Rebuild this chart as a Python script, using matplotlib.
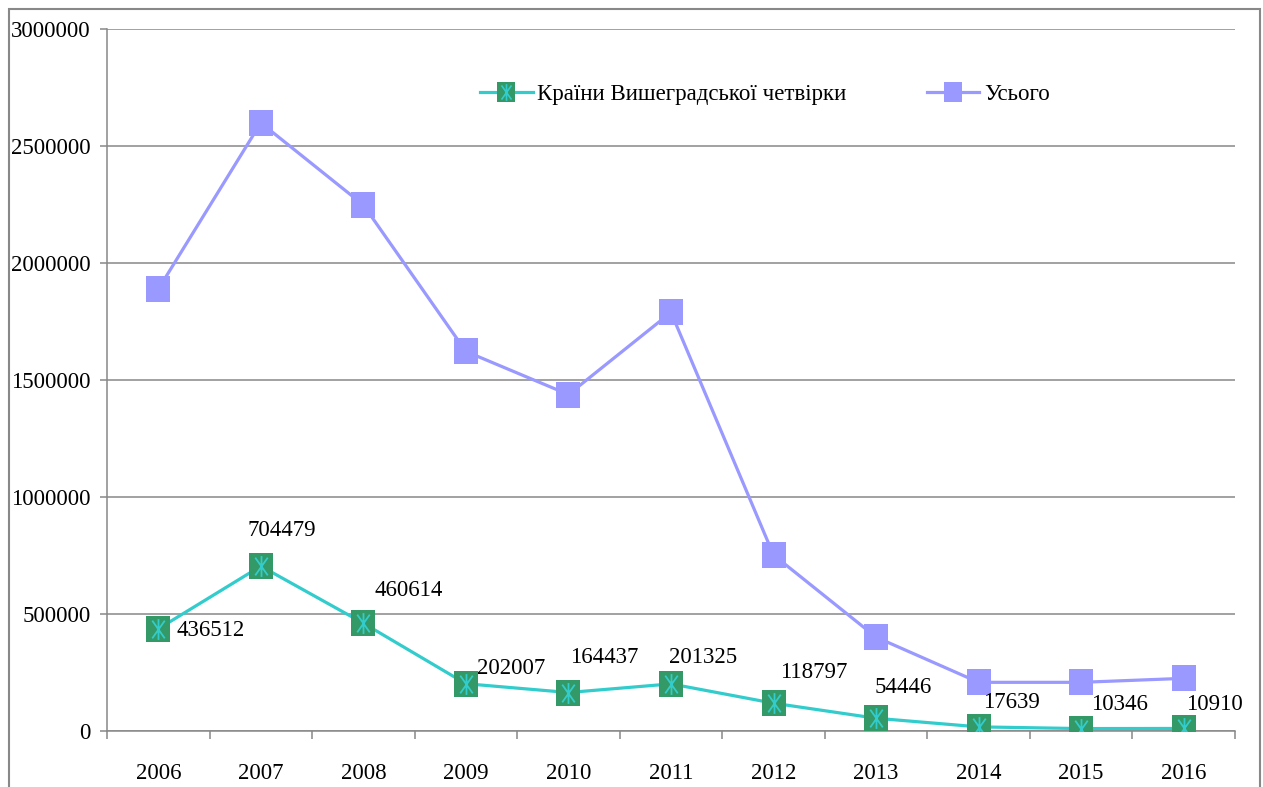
import matplotlib
matplotlib.use("Agg")
import matplotlib.pyplot as plt
import numpy as np
from matplotlib.lines import Line2D
from matplotlib.path import Path
from matplotlib.patches import Rectangle
from matplotlib.legend_handler import HandlerTuple

plt.rcParams["font.family"] = ["Liberation Serif", "DejaVu Serif"]

years = ["2006", "2007", "2008", "2009", "2010", "2011",
         "2012", "2013", "2014", "2015", "2016"]
v4_values = [436512, 704479, 460614, 202007, 164437, 201325,
             118797, 54446, 17639, 10346, 10910]
total_values = [1888000, 2599000, 2248000, 1622000, 1438000, 1789000,
                752000, 401000, 208000, 208000, 225000]

label_v4 = "Країни Вишеградської четвірки"
label_total = "Усього"

# label offsets (pixels) for the data labels of the V4 series
label_offsets = [(18, -2), (-13, 36), (11, 33), (11, 15), (2, 35), (-2, 26),
                 (7, 31), (-2, 31), (4, 24), (10, 24), (2, 24)]

CYAN = "#33CCCC"
GREEN = "#339966"
BLUE = "#9999FF"
GRID = "#888888"
FS = 16.5

# slightly narrow square and an asterisk-like star (Excel style)
square = Path([(-0.45, -0.5), (0.45, -0.5), (0.45, 0.5), (-0.45, 0.5), (-0.45, -0.5)],
              [Path.MOVETO, Path.LINETO, Path.LINETO, Path.LINETO, Path.CLOSEPOLY])
star = Path([(0, -1), (0, 1), (-0.6, -0.85), (0.6, 0.85), (-0.6, 0.85), (0.6, -0.85)],
            [Path.MOVETO, Path.LINETO, Path.MOVETO, Path.LINETO, Path.MOVETO, Path.LINETO])

fig = plt.figure(figsize=(12.63, 7.87), dpi=100)
ax = fig.add_axes([107 / 1263, 1 - 731 / 787, (1235 - 107) / 1263, (731 - 29) / 787])

x = np.arange(len(years))

ax.plot(x, total_values, color=BLUE, lw=2.3, marker=square, ms=18.5,
        mfc=BLUE, mec=BLUE, mew=0, zorder=3)
ax.plot(x, v4_values, color=CYAN, lw=2.3, marker=square, ms=18.5,
        mfc=GREEN, mec=GREEN, mew=0, zorder=4)
ax.plot(x, v4_values, ls="none", marker=star, ms=15, mfc="none",
        mec=CYAN, mew=1.3, zorder=5)

for xi, val, (dx, dy) in zip(x, v4_values, label_offsets):
    ax.annotate(str(val), (xi, val), xytext=(dx, dy), textcoords="offset pixels",
                ha="left", va="center", fontsize=FS, zorder=6)

ax.set_xlim(-0.5, len(years) - 0.5)
ax.set_ylim(0, 3000000)
ax.set_yticks(np.arange(0, 3000001, 500000))
ax.set_yticklabels([f"{int(v)}" for v in np.arange(0, 3000001, 500000)])
ax.set_xticks(x)
ax.set_xticklabels(years)
ax.set_xticks(np.arange(-0.5, len(years)), minor=True)

ax.grid(axis="y", color=GRID, lw=1.1)
ax.set_axisbelow(True)
for side in ["top", "right"]:
    ax.spines[side].set_visible(False)
for side in ["left", "bottom"]:
    ax.spines[side].set_color(GRID)
    ax.spines[side].set_linewidth(1.1)

ax.tick_params(axis="y", length=5, width=1.1, color=GRID, pad=7, labelsize=FS)
ax.tick_params(axis="x", which="major", length=0, pad=23, labelsize=FS)
ax.tick_params(axis="x", which="minor", length=6, width=1.1, color=GRID)

h_v4 = (Line2D([], [], color=CYAN, lw=2.3, marker=square, ms=15, mfc=GREEN, mec=GREEN, mew=0),
        Line2D([], [], ls="none", marker=star, ms=12, mfc="none", mec=CYAN, mew=1.2))
h_total = Line2D([], [], color=BLUE, lw=2.3, marker=square, ms=15, mfc=BLUE, mec=BLUE, mew=0)
fig.legend([h_v4, h_total], [label_v4, label_total], loc="center left",
           bbox_to_anchor=(480 / 1263, 1 - 94 / 787), ncol=2, frameon=False,
           fontsize=FS, handlelength=2.3, handletextpad=0.2, columnspacing=3.5,
           borderpad=0, borderaxespad=0,
           handler_map={tuple: HandlerTuple(ndivide=1, pad=0)})

# outer chart border
fig.patches.append(Rectangle((9 / 1263, -0.02), 1251 / 1263, 1 - 9 / 787 + 0.02,
                             transform=fig.transFigure, fill=False,
                             edgecolor=GRID, lw=1.5))

fig.savefig("out.png", dpi=100)
